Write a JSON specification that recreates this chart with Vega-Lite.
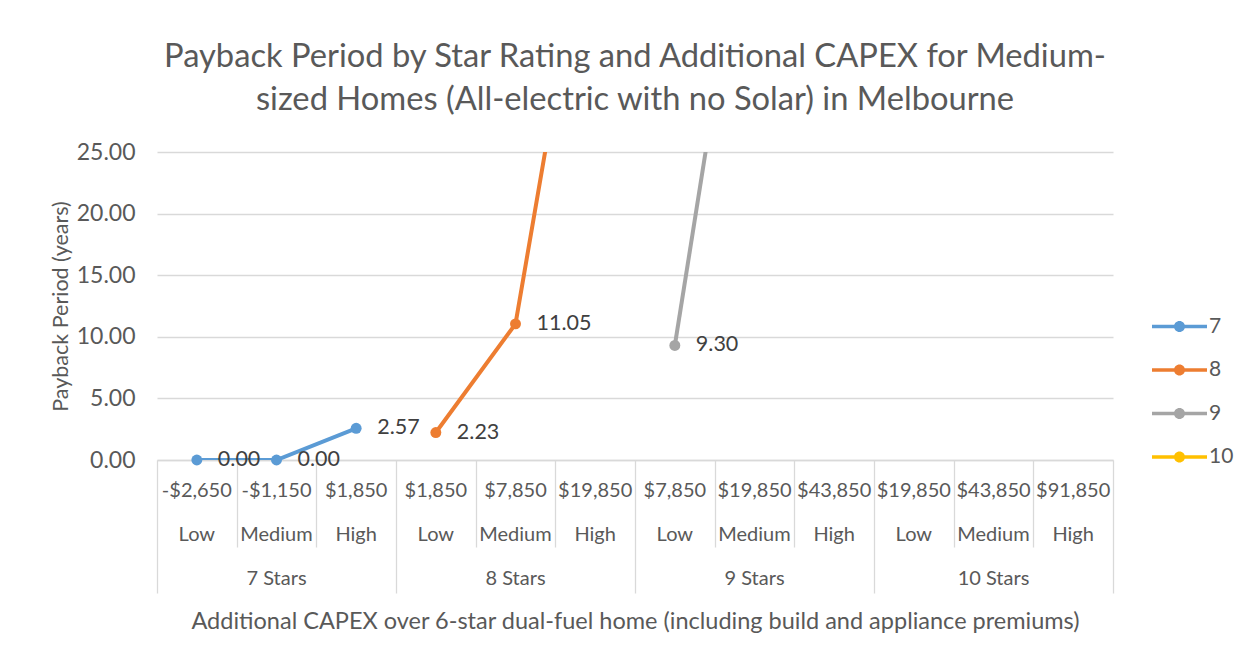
{
  "$schema": "https://vega.github.io/schema/vega-lite/v6.json",
  "autosize": {"type": "none"},
  "padding": {"left": 157, "top": 152, "right": 136, "bottom": 197},
  "width": 956,
  "height": 308,
  "background": "white",
  "config": {"view": {"stroke": null}, "font": "Lato"},
  "title": {
    "text": ["Payback Period by Star Rating and Additional CAPEX for Medium-", "sized Homes (All-electric with no Solar) in Melbourne"],
    "fontSize": 32.7,
    "font": "Lato",
    "fontWeight": "normal",
    "color": "#595959",
    "lineHeight": 43,
    "offset": 24,
    "anchor": "middle"
  },
  "data": {
    "values": [
      {"cat": "-$2,650|Low|7 Stars", "series": 7, "payback": 0},
      {"cat": "-$1,150|Medium|7 Stars", "series": 7, "payback": 0},
      {"cat": "$1,850|High|7 Stars", "series": 7, "payback": 2.57},
      {"cat": "$1,850|Low|8 Stars", "series": 8, "payback": 2.23},
      {"cat": "$7,850|Medium|8 Stars", "series": 8, "payback": 11.05},
      {"cat": "$19,850|High|8 Stars", "series": 8, "payback": 48.6},
      {"cat": "$7,850|Low|9 Stars", "series": 9, "payback": 9.30},
      {"cat": "$19,850|Medium|9 Stars", "series": 9, "payback": 50.0}
    ]
  },
  "resolve": {"axis": {"x": "independent"}},
  "layer": [
    {
      "mark": {"type": "line", "strokeWidth": 4, "clip": true},
      "encoding": {
        "x": {
          "field": "cat", "type": "nominal", "sort": null, "bandPosition": 0.5,
          "scale": {"type": "band", "paddingInner": 0, "paddingOuter": 0,
            "domain": ["-$2,650|Low|7 Stars", "-$1,150|Medium|7 Stars", "$1,850|High|7 Stars", "$1,850|Low|8 Stars", "$7,850|Medium|8 Stars", "$19,850|High|8 Stars", "$7,850|Low|9 Stars", "$19,850|Medium|9 Stars", "$43,850|High|9 Stars", "$19,850|Low|10 Stars", "$43,850|Medium|10 Stars", "$91,850|High|10 Stars"]},
          "axis": {
            "orient": "bottom",
            "title": "Additional CAPEX over 6-star dual-fuel home (including build and appliance premiums)",
            "labelExpr": "[split(datum.value,'|')[0], split(datum.value,'|')[1], split(datum.value,'|')[1]=='Medium' ? split(datum.value,'|')[2] : '']",
            "labelAngle": 0,
            "labelBaseline": "top",
            "labelLineHeight": 44,
            "labelPadding": 20,
            "labelFontSize": 20,
            "labelColor": "#595959",
            "labelOverlap": false,
            "labelBound": false,
            "labelFlush": false,
            "ticks": false,
            "domain": true,
            "domainColor": "#d9d9d9",
            "domainWidth": 1.3,
            "grid": false,
            "titleFontSize": 23.5,
            "titleFontWeight": "normal",
            "titleColor": "#595959",
            "titlePadding": 21
          }
        },
        "y": {
          "field": "payback", "type": "quantitative",
          "scale": {"domain": [0, 25], "nice": false},
          "axis": {
            "values": [0, 5, 10, 15, 20, 25],
            "format": ".2f",
            "labelFontSize": 23,
            "labelColor": "#595959",
            "labelPadding": 22,
            "domain": false,
            "ticks": false,
            "gridColor": "#d9d9d9",
            "gridWidth": 1.3,
            "title": "Payback Period (years)",
            "titleFontSize": 21.5,
            "titleFontWeight": "normal",
            "titleColor": "#595959",
            "titlePadding": 4
          }
        },
        "color": {
          "field": "series", "type": "nominal",
          "scale": {"domain": [7, 8, 9, 10], "range": ["#5B9BD5", "#ED7D31", "#A5A5A5", "#FFC000"]},
          "legend": {
            "orient": "none",
            "legendX": 995,
            "legendY": 147,
            "title": null,
            "symbolType": "M-1,-0.06L1,-0.06L1,0.06L-1,0.06Z M0.2,0A0.2,0.2 0 1 1 -0.2,0A0.2,0.2 0 1 1 0.2,0Z",
            "symbolSize": 3025,
            "symbolStrokeWidth": 0,
            "symbolOpacity": 1,
            "labelFontSize": 21,
            "labelColor": "#595959",
            "labelOffset": 2,
            "rowPadding": 5.5,
            "padding": 0,
            "encode": {"symbols": {"update": {"fill": {"scale": "color", "field": "value"}, "opacity": {"value": 1}}}}
          }
        }
      }
    },
    {
      "transform": [{"filter": "datum.payback <= 25"}],
      "mark": {"type": "point", "filled": true, "size": 120, "opacity": 1, "clip": false},
      "encoding": {
        "x": {"field": "cat", "type": "nominal", "sort": null, "bandPosition": 0.5, "axis": null},
        "y": {"field": "payback", "type": "quantitative"},
        "color": {"field": "series", "type": "nominal"}
      }
    },
    {
      "transform": [{"filter": "datum.payback <= 25"}],
      "mark": {"type": "text", "align": "left", "baseline": "middle", "dx": 21, "fontSize": 21.5, "color": "#404040"},
      "encoding": {
        "x": {
          "field": "cat", "type": "nominal", "sort": null, "bandPosition": 0.5,
          "axis": {
            "orient": "bottom",
            "title": null,
            "labels": false,
            "domain": false,
            "grid": false,
            "ticks": true,
            "tickBand": "extent",
            "tickColor": "#d9d9d9",
            "tickWidth": 1.3,
            "tickSize": {"condition": {"test": "!isString(datum.value) || indexof(datum.value,'|High|') >= 0", "value": 133}, "value": 87}
          }
        },
        "y": {"field": "payback", "type": "quantitative"},
        "text": {"field": "payback", "type": "quantitative", "format": ".2f"}
      }
    }
  ]
}
